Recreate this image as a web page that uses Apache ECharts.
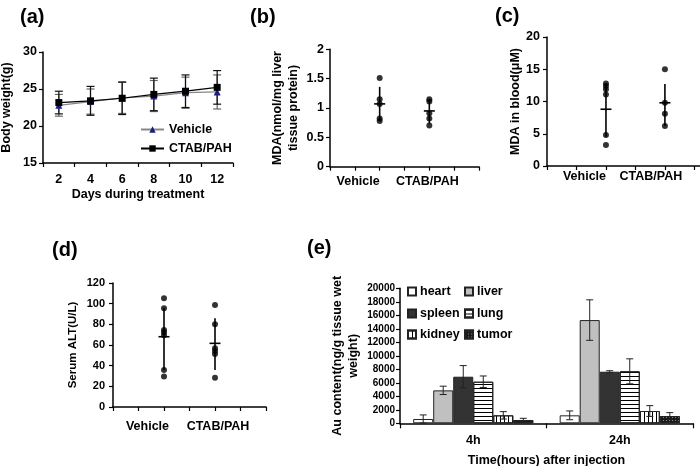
<!DOCTYPE html>
<html><head><meta charset="utf-8">
<script src="https://cdn.jsdelivr.net/npm/echarts@6/dist/echarts.min.js"></script>
<style>html,body{margin:0;padding:0;background:#fff}#c{width:700px;height:466px}</style>
</head><body><div id="c"></div>
<script>
// ---- (a) body weight ----
const days = ['2', '4', '6', '8', '10', '12'];
const vehicleWeight = [22.8, 23.3, 23.8, 24.05, 24.5, 24.6];
const vehicleWeightErr = [1.47, 1.7, 2.1, 2.1, 2.1, 2.3];
const ctabWeight = [23.17, 23.4, 23.75, 24.27, 24.7, 25.22];
const ctabWeightErr = [1.53, 1.95, 2.2, 2.2, 2.2, 2.27];
// ---- (b) liver MDA ----
const liverVehicle = [1.51, 1.15, 1.07, 0.82, 0.78];
const liverCtab = [1.15, 1.11, 0.91, 0.82, 0.70];
const liverMean = [1.07, 0.95];
const liverLow = [0.79, 0.73];
const liverHigh = [1.36, 1.14];
// ---- (c) blood MDA ----
const bloodVehicle = [12.8, 12.4, 11.9, 11.1, 4.8, 3.25];
const bloodCtab = [15.0, 9.8, 8.1, 6.2];
const bloodMean = [8.8, 9.8];
const bloodLow = [4.55, 6.2];
const bloodHigh = [12.8, 12.7];
// ---- (d) serum ALT ----
const altVehicle = [105.2, 95.5, 74.5, 72.3, 69.5, 35.8, 29.4];
const altCtab = [98.7, 80, 56.8, 54.2, 51.3, 28.4];
const altMean = [68, 61.6];
const altLow = [35.8, 35.8];
const altHigh = [95.5, 85.8];
// ---- (e) Au content ----
const times = ['4h', '24h'];
const organs = ['heart', 'liver', 'spleen', 'lung', 'kidney', 'tumor'];
const heart = [640, 1180],  heartErr = [600, 650];
const liver = [4880, 15290], liverErr = [620, 3000];
const spleen = [6900, 7640], spleenErr = [1650, 150];
const lung = [6160, 7700],  lungErr = [850, 1850];
const kidney = [1180, 1820], kidneyErr = [550, 800];
const tumor = [490, 1080],  tumorErr = [250, 500];

const organValues = [heart, liver, spleen, lung, kidney, tumor];
const organErrs = [heartErr, liverErr, spleenErr, lungErr, kidneyErr, tumorErr];

const F = '"Liberation Sans", Arial, sans-serif';
const txt = (size) => ({color: '#000', fontFamily: F, fontWeight: 'bold', fontSize: size});

function axisStyle(extra) {
  return Object.assign({
    axisLine: {show: true, onZero: false, lineStyle: {color: '#000', width: 1.5}},
    axisTick: {show: true, length: 4, lineStyle: {color: '#000', width: 1.2}},
    splitLine: {show: false},
  }, extra);
}

function errBars(color, capW) {
  return function (params, api) {
    const x = api.value(0), lo = api.value(1), hi = api.value(2);
    const p1 = api.coord([x, lo]), p2 = api.coord([x, hi]);
    const style = {stroke: color, lineWidth: 1.2};
    return {type: 'group', children: [
      {type: 'line', shape: {x1: p1[0], y1: p1[1], x2: p2[0], y2: p2[1]}, style},
      {type: 'line', shape: {x1: p1[0] - capW, y1: p1[1], x2: p1[0] + capW, y2: p1[1]}, style},
      {type: 'line', shape: {x1: p2[0] - capW, y1: p2[1], x2: p2[0] + capW, y2: p2[1]}, style}
    ]};
  };
}

function meanSd(params, api) {
  const x = api.value(0), m = api.value(1), lo = api.value(2), hi = api.value(3);
  const pm = api.coord([x, m]), p1 = api.coord([x, lo]), p2 = api.coord([x, hi]);
  const style = {stroke: '#000', lineWidth: 1.6};
  return {type: 'group', children: [
    {type: 'line', shape: {x1: p1[0], y1: p1[1], x2: p2[0], y2: p2[1]}, style},
    {type: 'line', shape: {x1: pm[0] - 5.5, y1: pm[1], x2: pm[0] + 5.5, y2: pm[1]}, style}
  ]};
}

function groupLabels(vehPad, ctabPad, size) {
  return {
    formatter: v => v === 2 ? '{v|Vehicle}' : (v === 4 ? '{c|CTAB/PAH}' : ''),
    rich: {
      v: Object.assign(txt(size), {padding: vehPad}),
      c: Object.assign(txt(size), {padding: ctabPad})
    }
  };
}

const series = [];
// (a)
series.push({name: 'Vehicle err', type: 'custom', xAxisIndex: 0, yAxisIndex: 0, z: 1,
  renderItem: errBars('#666', 4), encode: {x: 0, y: [1, 2]},
  data: days.map((d, i) => [i, vehicleWeight[i] - vehicleWeightErr[i], vehicleWeight[i] + vehicleWeightErr[i]])});
series.push({name: 'CTAB err', type: 'custom', xAxisIndex: 0, yAxisIndex: 0, z: 1,
  renderItem: errBars('#111', 4), encode: {x: 0, y: [1, 2]},
  data: days.map((d, i) => [i, ctabWeight[i] - ctabWeightErr[i], ctabWeight[i] + ctabWeightErr[i]])});
series.push({name: 'Vehicle', type: 'line', xAxisIndex: 0, yAxisIndex: 0, z: 3,
  data: vehicleWeight, symbol: 'triangle', symbolSize: 7,
  itemStyle: {color: '#1c1c80'}, lineStyle: {color: '#888', width: 1.2}});
series.push({name: 'CTAB/PAH', type: 'line', xAxisIndex: 0, yAxisIndex: 0, z: 4,
  data: ctabWeight, symbol: 'rect', symbolSize: 7,
  itemStyle: {color: '#000'}, lineStyle: {color: '#000', width: 1.2}});

// scatter panels
function scatterPanel(idx, veh, ctab, mean, low, high) {
  series.push({name: 'p' + idx + 'v', type: 'scatter', xAxisIndex: idx, yAxisIndex: idx,
    symbolSize: 6, itemStyle: {color: '#000'}, data: veh.map(v => [2, v])});
  series.push({name: 'p' + idx + 'c', type: 'scatter', xAxisIndex: idx, yAxisIndex: idx,
    symbolSize: 6, itemStyle: {color: '#000'}, data: ctab.map(v => [4, v])});
  series.push({name: 'p' + idx + 'm', type: 'custom', xAxisIndex: idx, yAxisIndex: idx,
    renderItem: meanSd, encode: {x: 0, y: [1, 2, 3]},
    data: [[2, mean[0], low[0], high[0]], [4, mean[1], low[1], high[1]]]});
}
scatterPanel(1, liverVehicle, liverCtab, liverMean, liverLow, liverHigh);
scatterPanel(2, bloodVehicle, bloodCtab, bloodMean, bloodLow, bloodHigh);
scatterPanel(3, altVehicle, altCtab, altMean, altLow, altHigh);

// (e) bars
const barStyles = [
  {color: '#ffffff'},
  {color: '#c0c0c0'},
  {color: '#333333'},
  {color: '#ffffff', decal: {symbol: 'rect', symbolSize: 1, color: '#000', dashArrayX: [1, 0], dashArrayY: [1, 2.2], rotation: 0}},
  {color: '#ffffff', decal: {symbol: 'rect', symbolSize: 1, color: '#000', dashArrayX: [1, 2.2], dashArrayY: [1, 0], rotation: 0}},
  {color: '#1a1a1a', decal: {symbol: 'rect', symbolSize: 1, color: '#888', dashArrayX: [1, 2], dashArrayY: [1, 2], rotation: 0}}
];
const catGap = 0.18;
organs.forEach((o, k) => {
  series.push({name: o, type: 'bar', xAxisIndex: 4, yAxisIndex: 4, data: organValues[k],
    barGap: '0%', barCategoryGap: (catGap * 100) + '%',
    itemStyle: Object.assign({borderColor: '#222', borderWidth: 1}, barStyles[k])});
});
series.push({name: 'e err', type: 'custom', xAxisIndex: 4, yAxisIndex: 4, z: 5,
  encode: {x: 0, y: [2, 3]},
  renderItem: function (params, api) {
    const c = api.value(0), s = api.value(1), lo = api.value(2), hi = api.value(3);
    const bw = api.size([1, 0])[0] * (1 - catGap) / organs.length;
    const cx = api.coord([c, 0])[0] + (s - (organs.length - 1) / 2) * bw;
    const y1 = api.coord([c, lo])[1], y2 = api.coord([c, hi])[1];
    const style = {stroke: '#222', lineWidth: 1};
    const w = 3.5;
    return {type: 'group', children: [
      {type: 'line', shape: {x1: cx, y1: y1, x2: cx, y2: y2}, style},
      {type: 'line', shape: {x1: cx - w, y1: y1, x2: cx + w, y2: y1}, style},
      {type: 'line', shape: {x1: cx - w, y1: y2, x2: cx + w, y2: y2}, style}
    ]};
  },
  data: (function () {
    const out = [];
    times.forEach((t, c) => organs.forEach((o, s) => {
      const v = organValues[s][c], e = organErrs[s][c];
      out.push([c, s, Math.max(0, v - e), v + e]);
    }));
    return out;
  })()});

const legendPos = [[407, 285], [464, 285], [407, 307], [464, 307], [407, 328], [464, 328]];
const legends = [{
  data: ['Vehicle', 'CTAB/PAH'], orient: 'vertical', left: 140, top: 123,
  itemWidth: 23, itemHeight: 8, itemGap: 6, textStyle: txt(12.5), padding: 0
}];
organs.forEach((o, k) => legends.push({
  data: [o], left: legendPos[k][0], top: legendPos[k][1], padding: 0,
  itemWidth: 8, itemHeight: 8, itemGap: 4,
  textStyle: Object.assign(txt(12.5), {padding: [0, 0, 0, -1]}), icon: 'rect'
}));

const G = {containLabel: false, outerBoundsMode: 'none'};
const option = {
  animation: false,
  backgroundColor: '#fff',
  textStyle: {fontFamily: F},
  title: [
    {text: '(a)', left: 15, top: 2, textStyle: txt(20)},
    {text: '(b)', left: 245, top: 2, textStyle: txt(20)},
    {text: '(c)', left: 490, top: 1, textStyle: txt(20)},
    {text: '(d)', left: 47, top: 235, textStyle: txt(20)},
    {text: '(e)', left: 302, top: 233, textStyle: txt(20)}
  ],
  legend: legends,
  grid: [
    Object.assign({left: 43, top: 52, width: 190, height: 111}, G),
    Object.assign({left: 330, top: 49.3, width: 149, height: 117.4}, G),
    Object.assign({left: 547, top: 37, width: 153, height: 129}, G),
    Object.assign({left: 113, top: 283, width: 153, height: 124}, G),
    Object.assign({left: 400, top: 288.3, width: 293, height: 135}, G)
  ],
  xAxis: [
    axisStyle({gridIndex: 0, type: 'category', data: days, boundaryGap: true,
      name: 'Days during treatment', nameLocation: 'middle', nameGap: 25, nameTextStyle: txt(12.5),
      axisLabel: Object.assign(txt(12.5), {margin: 10})}),
    axisStyle({gridIndex: 1, type: 'value', min: 0, max: 6, interval: 1,
      axisLabel: Object.assign({margin: 8}, groupLabels([0, 43, 0, 0], [0, 4, 0, 0], 12.5))}),
    axisStyle({gridIndex: 2, type: 'value', min: 0, max: 5.19, interval: 1,
      axisLabel: Object.assign({margin: 4, showMaxLabel: false}, groupLabels([0, 43, 0, 0], [0, 28, 0, 0], 12.5))}),
    axisStyle({gridIndex: 3, type: 'value', min: 0, max: 6, interval: 1,
      axisLabel: Object.assign({margin: 13}, groupLabels([0, 33, 0, 0], [0, 0, 0, 6], 12.5))}),
    axisStyle({gridIndex: 4, type: 'category', data: times, boundaryGap: true,
      name: 'Time(hours) after injection', nameLocation: 'middle', nameGap: 31, nameTextStyle: txt(12.5),
      axisTick: {show: true, length: 5, lineStyle: {color: '#000', width: 1.2}},
      axisLabel: Object.assign(txt(12.5), {margin: 11})})
  ],
  yAxis: [
    axisStyle({gridIndex: 0, type: 'value', min: 15, max: 30, interval: 5,
      name: 'Body weight(g)', nameLocation: 'middle', nameGap: 30, nameTextStyle: txt(12.5),
      axisLabel: Object.assign(txt(12.5), {margin: 6})}),
    axisStyle({gridIndex: 1, type: 'value', min: 0, max: 2, interval: 0.5,
      name: 'MDA(nmol/mg liver\ntissue protein)', nameLocation: 'middle', nameGap: 28,
      nameTextStyle: Object.assign(txt(12.5), {lineHeight: 16}),
      axisLabel: Object.assign(txt(12.5), {margin: 6})}),
    axisStyle({gridIndex: 2, type: 'value', min: 0, max: 20, interval: 5,
      name: 'MDA in blood(μM)', nameLocation: 'middle', nameGap: 24, nameTextStyle: txt(12.5),
      axisLabel: Object.assign(txt(12.5), {margin: 7})}),
    axisStyle({gridIndex: 3, type: 'value', min: 0, max: 120, interval: 20,
      name: 'Serum ALT(U/L)', nameLocation: 'middle', nameGap: 34, nameTextStyle: txt(11.5),
      axisLabel: Object.assign(txt(11), {margin: 8})}),
    axisStyle({gridIndex: 4, type: 'value', min: 0, max: 20000, interval: 2000,
      name: 'Au content(ng/g tissue wet\nweight)', nameLocation: 'middle', nameGap: 38,
      nameTextStyle: Object.assign(txt(12.5), {lineHeight: 16}),
      axisLabel: Object.assign(txt(10), {margin: 5, formatter: v => String(v)})})
  ],
  series: series
};

const chart = echarts.init(document.getElementById('c'));
chart.setOption(option);
</script>
</body></html>
